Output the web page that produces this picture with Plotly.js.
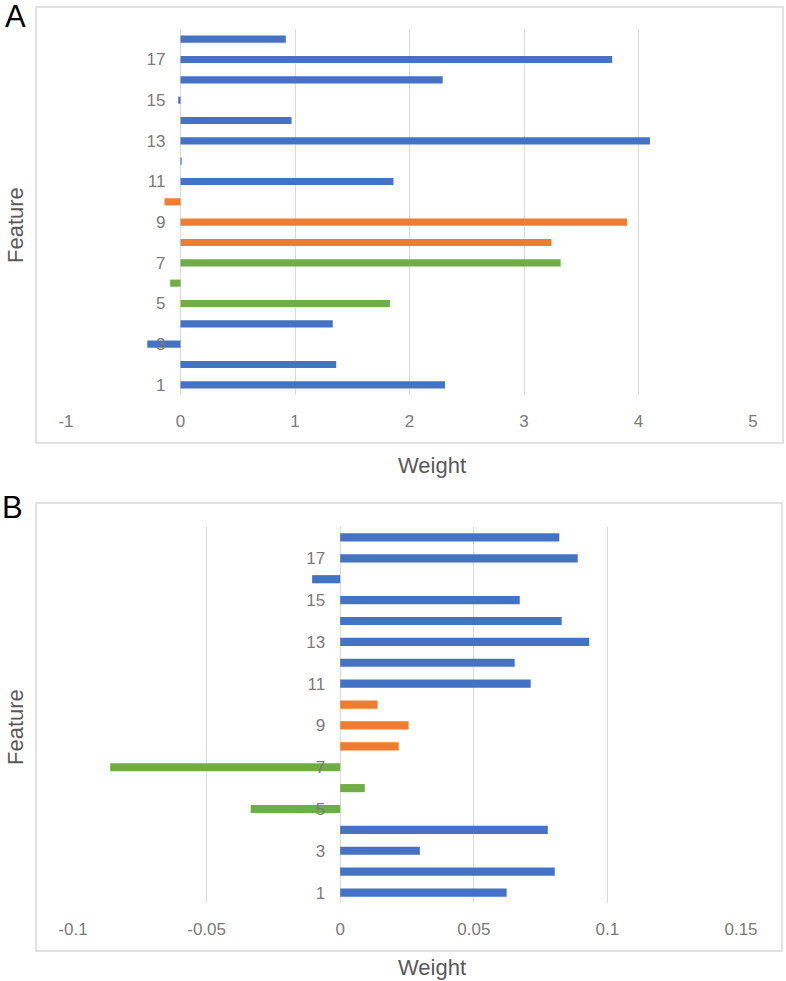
<!DOCTYPE html>
<html>
<head>
<meta charset="utf-8">
<script src="https://cdn.plot.ly/plotly-3.0.1.min.js"></script>
<style>html,body{margin:0;padding:0;background:#fff;}#chart{width:786px;height:981px;}</style>
</head>
<body>
<div id="chart"></div>
<script>
// ---- data ----
const features = [1, 2, 3, 4, 5, 6, 7, 8, 9, 10, 11, 12, 13, 14, 15, 16, 17, 18];
const featureGroup = ['blue', 'blue', 'blue', 'blue', 'green', 'green', 'green', 'orange', 'orange', 'orange',
                      'blue', 'blue', 'blue', 'blue', 'blue', 'blue', 'blue', 'blue'];
const weightsA = [2.31, 1.36, -0.29, 1.33, 1.83, -0.09, 3.32, 3.24, 3.90, -0.14,
                  1.86, 0.01, 4.10, 0.97, -0.02, 2.29, 3.77, 0.92];
const weightsB = [0.0623, 0.0803, 0.0298, 0.0777, -0.0335, 0.0092, -0.0861, 0.0219, 0.0256, 0.0140,
                  0.0713, 0.0653, 0.0932, 0.0829, 0.0672, -0.0105, 0.0889, 0.0820];
const featureTicks = [1, 3, 5, 7, 9, 11, 13, 15, 17];
const weightTicksA = [-1, 0, 1, 2, 3, 4, 5];
const weightTicksB = [-0.1, -0.05, 0, 0.05, 0.1, 0.15];
const weightTickTextB = ['-0.1', '-0.05', '0', '0.05', '0.1', '0.15'];

// ---- style ----
const palette = {blue: '#4472C4', green: '#70AD47', orange: '#ED7D31'};
const barColors = featureGroup.map(g => palette[g]);
const W = 786, H = 981;
const px = v => v / W;
const py = v => 1 - v / H;
const grid = '#d9d9d9';
const tickFont = {family: 'Liberation Sans, Arial, sans-serif', size: 17, color: '#7a7a7a'};
const titleFont = {family: 'Liberation Sans, Arial, sans-serif', size: 22, color: '#595959'};
const panelFont = {family: 'Liberation Sans, Arial, sans-serif', size: 31, color: '#000'};

const rangeA = [-1, 5], rangeB = [-0.1, 0.15];
const domXA = [px(66), px(753)], domYA = [py(395), py(29)];
const domXB = [px(73), px(741)], domYB = [py(903), py(527)];
const zeroPos = (dom, r) => dom[0] + (0 - r[0]) / (r[1] - r[0]) * (dom[1] - dom[0]);

const traces = [
  {type: 'bar', orientation: 'h', y: features, x: weightsA, xaxis: 'x', yaxis: 'y',
   marker: {color: barColors}, width: 0.35, hoverinfo: 'x+y'},
  {type: 'bar', orientation: 'h', y: features, x: weightsB, xaxis: 'x2', yaxis: 'y2',
   marker: {color: barColors}, width: 0.39, hoverinfo: 'x+y'}
];

const xCommon = {showgrid: true, gridcolor: grid, gridwidth: 1, zeroline: true, zerolinecolor: grid,
  zerolinewidth: 1, showline: false, ticks: '', tickfont: tickFont, fixedrange: true,
  tickmode: 'array', ticklabelstandoff: 14};
const yCommon = {showgrid: false, zeroline: false, showline: false, ticks: '', tickfont: tickFont,
  tickmode: 'array', tickvals: featureTicks, ticktext: featureTicks.map(String),
  range: [0.5, 18.5], anchor: 'free', side: 'left', ticklabelstandoff: 15, fixedrange: true};

const ann = (text, x, y, font, extra) => Object.assign({text: text, xref: 'paper', yref: 'paper',
  x: px(x), y: py(y), xanchor: 'center', yanchor: 'middle', showarrow: false, font: font}, extra || {});

const layout = {
  width: W, height: H, margin: {l: 0, r: 0, t: 0, b: 0}, showlegend: false,
  paper_bgcolor: '#ffffff', plot_bgcolor: 'rgba(0,0,0,0)',
  xaxis: Object.assign({}, xCommon, {domain: domXA, range: rangeA, anchor: 'y',
    tickvals: weightTicksA, ticktext: weightTicksA.map(String)}),
  yaxis: Object.assign({}, yCommon, {domain: domYA, position: zeroPos(domXA, rangeA)}),
  xaxis2: Object.assign({}, xCommon, {domain: domXB, range: rangeB, anchor: 'y2',
    tickvals: weightTicksB, ticktext: weightTickTextB}),
  yaxis2: Object.assign({}, yCommon, {domain: domYB, position: zeroPos(domXB, rangeB)}),
  shapes: [
    {type: 'rect', xref: 'paper', yref: 'paper', x0: px(36), x1: px(783), y0: py(443), y1: py(7),
     line: {color: grid, width: 1.5}, layer: 'below'},
    {type: 'rect', xref: 'paper', yref: 'paper', x0: px(36), x1: px(782), y0: py(951), y1: py(503),
     line: {color: grid, width: 1.5}, layer: 'below'}
  ],
  annotations: [
    ann('A', 15, 17, panelFont),
    ann('B', 13, 507, panelFont),
    ann('Weight', 432, 465, titleFont),
    ann('Weight', 432, 967, titleFont),
    ann('Feature', 16, 225, titleFont, {textangle: -90}),
    ann('Feature', 15, 727, titleFont, {textangle: -90})
  ]
};

Plotly.newPlot('chart', traces, layout, {displayModeBar: false, staticPlot: true});
</script>
</body>
</html>
